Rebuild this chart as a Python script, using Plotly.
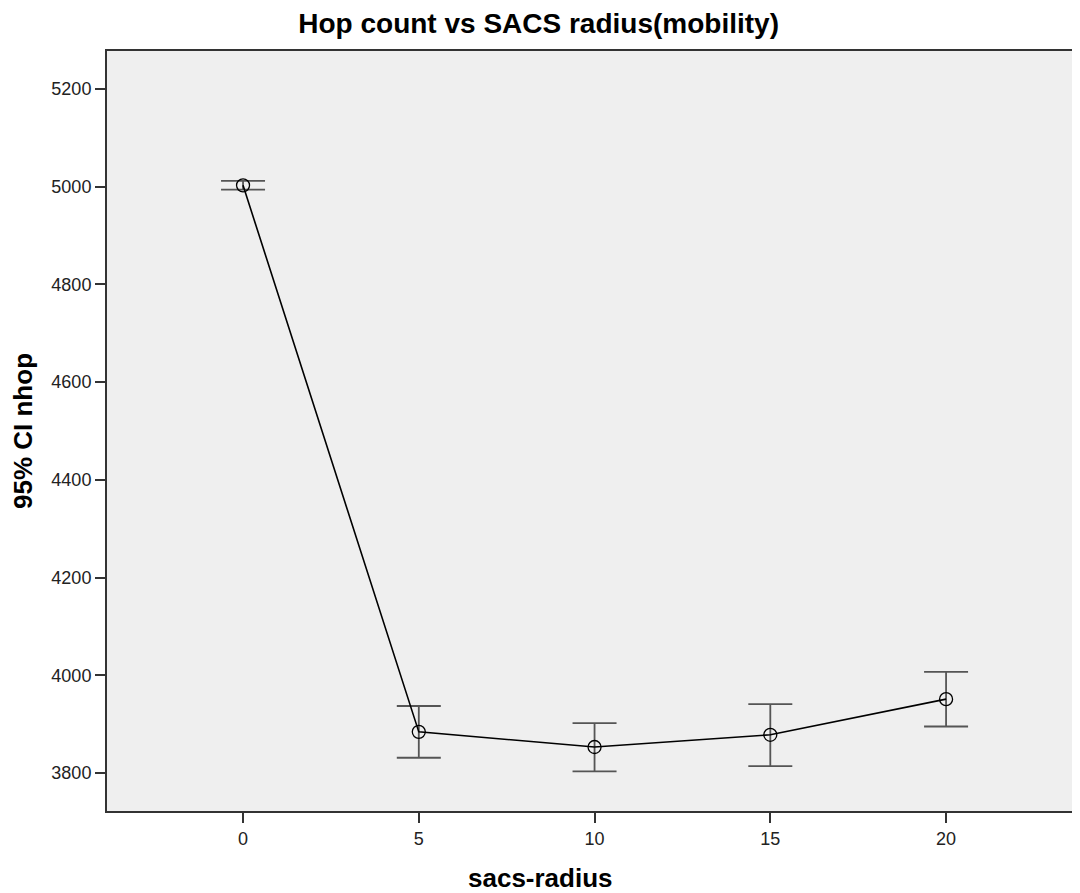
import plotly.graph_objects as go

# sacs-radius categories and 95% CI of nhop
radius = [0, 5, 10, 15, 20]
nhop_mean = [5003, 3884, 3853, 3878, 3951]
ci_upper = [5012, 3937, 3902, 3941, 4007]
ci_lower = [4994, 3831, 3803, 3814, 3895]

err_plus = [u - m for u, m in zip(ci_upper, nhop_mean)]
err_minus = [m - l for m, l in zip(nhop_mean, ci_lower)]

y_ticks = [3800, 4000, 4200, 4400, 4600, 4800, 5000, 5200]

fig = go.Figure()

fig.add_trace(go.Scatter(
    x=radius,
    y=nhop_mean,
    mode="lines+markers",
    line=dict(color="black", width=1.6),
    marker=dict(symbol="circle-open", size=13, color="black",
                line=dict(width=1.3, color="black")),
    error_y=dict(type="data", symmetric=False, array=err_plus,
                 arrayminus=err_minus, color="#555555",
                 thickness=1.8, width=22),
    showlegend=False,
))

font = "Liberation Sans, Arial, sans-serif"

# page body has an 8px margin, so the figure is sized to fit the window
fig.update_layout(
    width=1072, height=885,
    margin=dict(l=99, r=0, t=43, b=82),
    paper_bgcolor="white",
    plot_bgcolor="#efefef",
    font=dict(family=font, color="#222222", size=18),
    title=dict(text="<b>Hop count vs SACS radius(mobility)</b>",
               x=0.495, xanchor="center", y=0.983, yanchor="middle",
               font=dict(size=28, color="black", family=font)),
)

# x title sits centred on the page rather than on the plot area
fig.add_annotation(
    text="<b>sacs-radius</b>", xref="paper", yref="paper",
    x=0.446, y=-0.088, xanchor="center", yanchor="middle",
    showarrow=False, font=dict(size=26, color="black", family=font),
)

fig.update_xaxes(
    range=[-3.87, 23.81],
    tickvals=radius,
    showgrid=False, zeroline=False,
    showline=True, mirror=True, linecolor="#333333", linewidth=2,
    ticks="outside", ticklen=10, tickwidth=2, tickcolor="#333333",
    tickfont=dict(size=18, color="#222222"),
)

fig.update_yaxes(
    range=[3722, 5278],
    tickvals=y_ticks,
    showgrid=False, zeroline=False,
    showline=True, linecolor="#333333", linewidth=2,
    ticks="outside", ticklen=10, tickwidth=2, tickcolor="#333333",
    tickfont=dict(size=18, color="#222222"),
    ticklabelstandoff=0,
    title=dict(text="<b>95% CI nhop</b>", standoff=18,
               font=dict(size=26, color="black")),
)

fig.write_html("out.html")
